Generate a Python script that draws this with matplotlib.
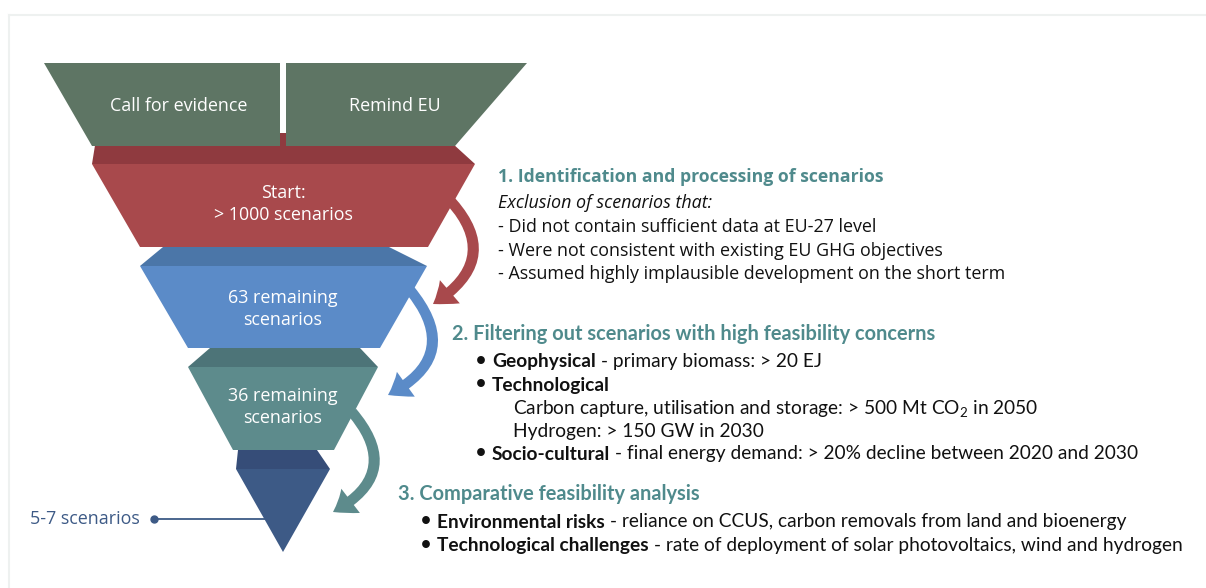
import matplotlib
matplotlib.use("Agg")
import matplotlib.pyplot as plt
from matplotlib.patches import Polygon, FancyArrowPatch, ArrowStyle

plt.rcParams['mathtext.fontset'] = 'custom'
plt.rcParams['mathtext.rm'] = 'Lato'

# ---- content ----
top_labels = ["Call for evidence", "Remind EU"]
stage_labels = ["Start:\n> 1000 scenarios", "63 remaining\nscenarios", "36 remaining\nscenarios"]
final_label = "5-7 scenarios"

sec1_title = "1. Identification and processing of scenarios"
sec1_intro = "Exclusion of scenarios that:"
sec1_items = ["- Did not contain sufficient data at EU-27 level",
              "- Were not consistent with existing EU GHG objectives",
              "- Assumed highly implausible development on the short term"]

sec2_title = "2. Filtering out scenarios with high feasibility concerns"
sec2_bold = ["Geophysical", "Technological", "Socio-cultural"]
sec2_rest = [" - primary biomass: > 20 EJ", "", " - final energy demand: > 20% decline between 2020 and 2030"]
sec2_sub = ["Carbon capture, utilisation and storage: > 500 Mt CO$_\\mathregular{2}$ in 2050",
            "Hydrogen: > 150 GW in 2030"]

sec3_title = "3. Comparative feasibility analysis"
sec3_bold = ["Environmental risks", "Technological challenges"]
sec3_rest = [" - reliance on CCUS, carbon removals from land and bioenergy",
             " - rate of deployment of solar photovoltaics, wind and hydrogen"]

# ---- colours ----
green = "#5e7564"
red, red_d = "#a8494c", "#8f3a3f"
blue, blue_d = "#5b8bc8", "#4b76a8"
teal, teal_d = "#5d8b8c", "#4d7478"
navy, navy_d = "#3d5a86", "#364d78"
title_c = "#4f8a8c"

fig = plt.figure(figsize=(12.06, 5.88), dpi=100)
ax = fig.add_axes([0, 0, 1, 1])
ax.set_xlim(0, 1206)
ax.set_ylim(588, 0)
ax.axis('off')

# faint frame
ax.plot([9, 1206], [15, 15], color="#eef1f0", lw=1.5)
ax.plot([9, 9], [15, 588], color="#eef1f0", lw=1.5)

def poly(pts, c, z=1):
    ax.add_patch(Polygon(pts, closed=True, fc=c, ec='none', zorder=z))

# funnel: dark "top" faces then front faces
poly([(97, 133), (441, 133), (475, 164), (92, 164)], red_d, 1)
poly([(44, 63), (280, 63), (280, 146), (92, 146)], green, 2)
poly([(286, 63), (527, 63), (455, 146), (286, 146)], green, 2)
poly([(92, 164), (475, 164), (428, 247), (140, 247)], red, 3)
poly([(163, 247), (389, 247), (427, 266), (140, 266)], blue_d, 2)
poly([(140, 266), (427, 266), (380, 348), (188, 348)], blue, 3)
poly([(210, 348), (360, 348), (378, 367), (188, 367)], teal_d, 2)
poly([(188, 367), (378, 367), (334, 450), (233, 450)], teal, 3)
poly([(238, 450), (317, 450), (330, 469), (236, 469)], navy_d, 2)
poly([(236, 469), (330, 469), (283, 552)], navy, 3)

sfont = dict(family="Open Sans", fontsize=12.9, color="white", ha="center",
             va="center", zorder=5, linespacing=1.3)
ax.text(179, 106, top_labels[0], **sfont)
ax.text(395, 106, top_labels[1], **sfont)
for lab, y in zip(stage_labels, [204, 309, 407]):
    ax.text(283, y, lab, **sfont)

# 5-7 scenarios marker
ax.plot([154, 265], [519, 519], color=navy, lw=1.3, zorder=4)
ax.plot(154, 519, 'o', color=navy, ms=5, zorder=4)
ax.text(30, 519, final_label, family="Open Sans", fontsize=12.9, color=navy,
        ha="left", va="center")

# curved arrows
style = ArrowStyle("simple", head_length=15, head_width=22, tail_width=7.5)
for (p0, p1, c) in [((446, 196), (433, 304), red),
                    ((410, 290), (388, 395), blue),
                    ((352, 412), (333, 512), teal)]:
    ax.add_patch(FancyArrowPatch(p0, p1, connectionstyle="arc3,rad=-0.62",
                                 arrowstyle=style, color=c, lw=0,
                                 shrinkA=0, shrinkB=0, zorder=4))

# section 1
ax.text(498, 177, sec1_title, family="Open Sans", weight="bold", fontsize=12.7,
        color=title_c, va="center")
ax.text(498, 203, sec1_intro, family="Open Sans", style="italic", fontsize=12.9,
        color="#111111", va="center")
for i, s in enumerate(sec1_items):
    ax.text(498, 227 + i * 23.5, s, family="Open Sans", fontsize=12.9,
            color="#111111", va="center")

def bullet_line(x, y, bold, rest, fs):
    ax.text(x - 11, y, "\u2022", family="DejaVu Sans", fontsize=fs * 1.15,
            weight="bold", color="#111111", va="center", ha="center")
    t = ax.text(x, y, bold, family="Lato", weight="bold", fontsize=fs,
                color="#111111", va="center")
    if rest:
        ax.annotate(rest, xy=(1, 0), xycoords=t, va="bottom", ha="left",
                    family="Lato", fontsize=fs, color="#111111")

# section 2
ax.text(452, 334, sec2_title, family="Lato", weight="bold", fontsize=14.4,
        color=title_c, va="center")
bullet_line(492, 362, sec2_bold[0], sec2_rest[0], 13.8)
bullet_line(492, 385, sec2_bold[1], sec2_rest[1], 13.8)
for i, s in enumerate(sec2_sub):
    ax.text(513, 409 + i * 22.5, s, family="Lato", fontsize=13.8,
            color="#111111", va="center")
bullet_line(492, 454, sec2_bold[2], sec2_rest[2], 13.8)

# section 3
ax.text(398, 494, sec3_title, family="Lato", weight="bold", fontsize=14.4,
        color=title_c, va="center")
for i in range(2):
    bullet_line(437, 522 + i * 24, sec3_bold[i], sec3_rest[i], 13.8)

fig.savefig("out.png", dpi=100, facecolor="white")
